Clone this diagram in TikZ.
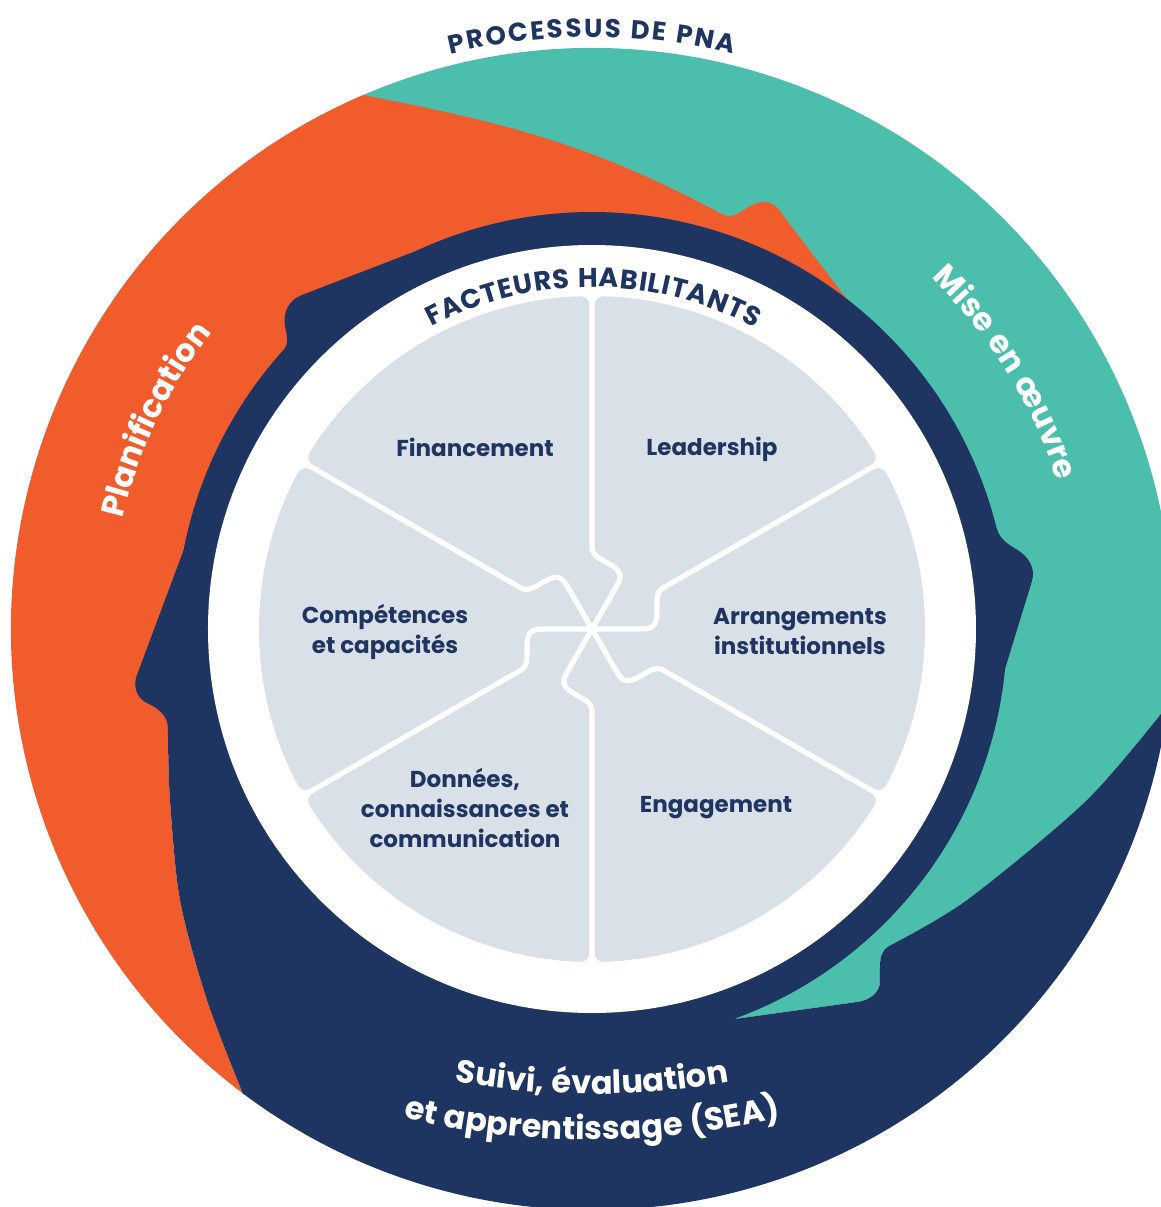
\documentclass[tikz,border=0pt]{standalone}
\usepackage{fontspec}
\setmainfont{Poppins}
\newfontfamily\trkB[LetterSpace=3]{Poppins}
\usetikzlibrary{decorations.text}
\definecolor{cteal}{HTML}{4BBEAC}
\definecolor{corange}{HTML}{F15C2D}
\definecolor{cnavy}{HTML}{1F3561}
\definecolor{cgray}{HTML}{DAE0E8}
\begin{document}
\begin{tikzpicture}[x=0.5pt,y=0.5pt,
  divider/.style={draw=white,line width=2.6pt,line cap=round,line join=round},
  lbl/.style={text=cnavy,font=\bfseries\fontsize{11.5}{15}\selectfont,align=center}]
\useasboundingbox (-592,-578) rectangle (569,629);
\clip (-592,-578) rectangle (569,629);
\coordinate (tip) at (-70.1:415);
% teal arc (Mise en oeuvre)
\fill[cteal] (113.2:581) arc[start angle=113.2,end angle=-7.5,radius=581]
  -- plot[smooth] coordinates {(576,-76) (495,-171) (375,-271) (297,-317)}
  to[out=211,in=90] (288,-338) -- (288,-352) to[out=-90,in=7] (265,-373) -- (tip)
  -- (-70.1:395) arc[start angle=-70.1,end angle=113.2,radius=395] -- cycle;
% orange arc (Planification)
\fill[corange] (113.2:581) arc[start angle=113.2,end angle=233.1,radius=581]
  -- plot[smooth] coordinates {(-349,-465) (-385,-371) (-412,-271) (-422,-171) (-424,-108)}
  -- (194.3:370) arc[start angle=194.3,end angle=51,radius=370]
  -- (273,306) -- (196,407) to[out=127,in=0] (172,427) to[out=180,in=30] (150,418)
  to[out=210,in=0] (138,413) to[out=180,in=-28] (128,416) to[out=152,in=-11] (113.2:581) -- cycle;
% navy (SEA + band)
\fill[cnavy] (233.1:581)
  -- plot[smooth] coordinates {(-349,-465) (-385,-371) (-412,-271) (-422,-171) (-424,-108)}
  -- (-424,-100) to[out=90,in=-25] (-445,-74) to[out=155,in=248] (-455,-46)
  -- (169.1:416) arc[start angle=169.1,end angle=137.9,radius=416]
  to[out=48,in=-80] (-307,303) to[out=100,in=200] (-290,334)
  -- (115:417) arc[start angle=115,end angle=14.2,radius=417]
  to[out=-76,in=150] (424,80) to[out=-30,in=74] (440,48)
  -- (-5.5:415) arc[start angle=-5.5,end angle=-70.1,radius=415]
  -- (265,-373) to[out=7,in=-90] (288,-352) -- (288,-338) to[out=90,in=211] (297,-317)
  -- plot[smooth] coordinates {(297,-317) (375,-271) (495,-171) (576,-76)}
  -- (-7.5:581) arc[start angle=-7.5,end angle=-126.9,radius=581] -- cycle;
% inner disks
\fill[white] (0,0) circle[radius=384];
\fill[cgray] (0,0) circle[radius=333];
\foreach \r in {0,60,...,300}{
  \draw[divider,rotate=\r] (0,0) -- (60:50) to[out=60,in=-30,looseness=1.4] (14,67)
    to[out=150,in=-90] (0,82) -- (0,336);
  \fill[white,rotate=\r] (2,336) -- (11.5,334) -- (11.5,332.8)
    .. controls (6.5,333) and (2.5,329) .. (2.5,324) -- (2,324) -- cycle;
  \fill[white,rotate=\r] (-2,336) -- (-11.5,334) -- (-11.5,332.8)
    .. controls (-6.5,333) and (-2.5,329) .. (-2.5,324) -- (-2,324) -- cycle;
}
% labels
\node[lbl] (fin) at (-117,182) {Financement};
\node[lbl] (lead) at (120,180) {Leadership};
\node[lbl] (comp) at (-207,-3) {Compétences\\et capacités};
\node[lbl] (arr) at (208,-3) {Arrangements\\institutionnels};
\node[lbl] (don) at (-127,-179) {Données,\\connaissances et\\communication};
\node[lbl] (eng) at (124,-179) {Engagement};
% curved titles
\path[decorate,decoration={text along path,text align={fit to path},
  text={|\color{cnavy}\bfseries\fontsize{13}{13}\selectfont|PROCESSUS DE PNA}}]
  (103.8:592) arc[start angle=103.8,end angle=76.2,radius=592];
\path[decorate,decoration={text along path,text align={fit to path},
  text={|\color{cnavy}\bfseries\fontsize{13.5}{13.5}\selectfont|FACTEURS HABILITANTS}}]
  (118:342) arc[start angle=118,end angle=61.5,radius=342];
\path[decorate,decoration={text along path,text align=center,
  text={|\color{white}\trkB\bfseries\fontsize{16}{16}\selectfont|Planification}}]
  (214.4:482) arc[start angle=214.4,end angle=94.4,radius=482];
\path[decorate,decoration={text along path,text align=center,
  text={|\color{white}\trkB\bfseries\fontsize{16}{16}\selectfont|Mise en œuvre}}]
  (91.8:488) arc[start angle=91.8,end angle=-28.2,radius=488];
\path[decorate,decoration={text along path,text align=center,
  text={|\color{white}\trkB\bfseries\fontsize{16}{16}\selectfont|Suivi, évaluation}},shift={(0,300)}]
  (230:765) arc[start angle=230,end angle=310,radius=765];
\path[decorate,decoration={text along path,text align=center,
  text={|\color{white}\trkB\bfseries\fontsize{16}{16}\selectfont|et apprentissage (SEA)}},shift={(0,300)}]
  (230:811) arc[start angle=230,end angle=310,radius=811];
\end{tikzpicture}
\end{document}
